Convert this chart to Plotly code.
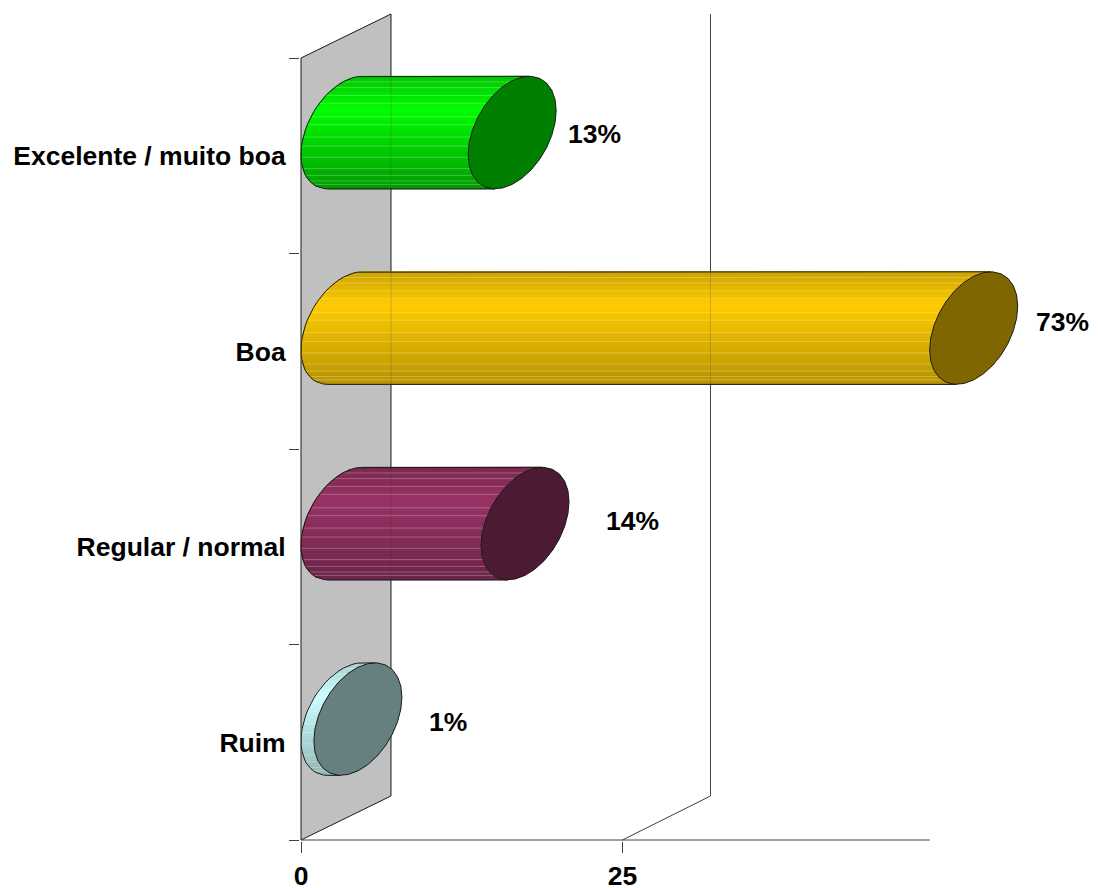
import numpy as np
import plotly.graph_objects as go

# --- data ---
categories = ["Ruim", "Regular / normal", "Boa", "Excelente / muito boa"]
values = [1, 14, 73, 13]
value_labels = ["1%", "14%", "73%", "13%"]
x_ticks = [0, 25]

# --- style ---
X_MAX = 48.9
PX_X = 12.84
PX_Y = 195.5
DEPTH_X = 6.85
WALL_X = 7.0
DEPTH_Y = 0.225
HALF_H = 0.265
BAR_RISE = 0.006
side_top = ["#a8d0d0", "#7a2850", "#cca300", "#00c400"]
side_peak = ["#ccffff", "#993366", "#ffcc00", "#00ff00"]
side_bot = ["#94b8b8", "#6e2549", "#b89400", "#009c00"]
cap_colors = ["#667f7f", "#4c1a33", "#806600", "#007f00"]
label_shift = [(46, 20), (63, 26), (45, 29), (38, 22)]
hair_pos = [0.05, 0.10, 0.17, 0.24, 0.36, 0.43, 0.54, 0.62, 0.72, 0.82, 0.88, 0.93, 0.96]
N_STRIPS = 38
LINE = "#1a1a1a"
FONT = dict(family="Liberation Sans", size=26.5, color="black", weight=700)


def hex2rgb(h):
    return np.array([int(h[i:i + 2], 16) for i in (1, 3, 5)], float)


def grad(f, a, b, c):
    a, b, c = hex2rgb(a), hex2rgb(b), hex2rgb(c)
    col = a + (b - a) * f / 0.3 if f < 0.3 else b + (c - b) * (f - 0.3) / 0.7
    return "rgb(%d,%d,%d)" % tuple(col)


fig = go.Figure()


def poly(xs, ys, fill=None, line=LINE, width=1.0):
    fig.add_trace(go.Scatter(
        x=list(xs), y=list(ys), mode="lines", cliponaxis=False,
        fill="toself" if fill else None, fillcolor=fill,
        line=dict(color=line, width=width),
        hoverinfo="skip", showlegend=False))


# back wall and gridline
poly([0, 0, WALL_X, WALL_X, 0], [0, 4, 4 + DEPTH_Y, DEPTH_Y, 0], fill="#c0c0c0")
poly([25, 25 + DEPTH_X, 25 + DEPTH_X], [0, DEPTH_Y, 4 + DEPTH_Y], line="#404040")
poly([0, X_MAX], [0, 0], line="#404040")

a = DEPTH_X / 2
d = DEPTH_Y / 2
phi = np.arctan2(d, HALF_H)
R = np.hypot(HALF_H, d)

for i, v in enumerate(values):
    end = min(v, X_MAX)
    yc = i + 0.5 + d + BAR_RISE
    cx = a

    def left_x(s):
        return cx + a * np.sin(phi - s)

    # horizontal shaded strips of the cylinder side
    fr = np.linspace(0, 1, N_STRIPS + 1)
    ss = np.arccos(1 - 2 * fr)
    for k in range(N_STRIPS):
        s0, s1 = ss[k], ss[k + 1]
        y0, y1 = yc + R * np.cos(s0), yc + R * np.cos(s1)
        c = grad((fr[k] + fr[k + 1]) / 2, side_top[i], side_peak[i], side_bot[i])
        poly([left_x(s0), left_x(s1), left_x(s1) + end, left_x(s0) + end, left_x(s0)],
             [y0, y1, y1, y0, y0], fill=c, line=c, width=1)

    # lighter hairlines
    hx, hy = [], []
    for f in hair_pos:
        s = np.arccos(1 - 2 * f)
        hx += [left_x(s), left_x(s) + end, None]
        hy += [yc + R * np.cos(s), yc + R * np.cos(s), None]
    poly(hx, hy, line="rgba(255,255,255,0.25)", width=1)

    # faint wall edge / gridline seen through the bar
    for gx in (WALL_X, 25 + DEPTH_X):
        if gx < end + DEPTH_X / 2:
            poly([gx, gx], [yc - R, yc + R], line="rgba(60,60,60,0.22)", width=1)

    # outline of the side
    sarc = np.linspace(0, np.pi, 30)
    poly(list(end + left_x(sarc[:1])) + list(left_x(sarc)) + list(end + left_x(sarc[-1:])),
         list(yc + R * np.cos(sarc[:1])) + list(yc + R * np.cos(sarc)) + list(yc + R * np.cos(sarc[-1:])))

    # end cap
    t = np.linspace(0, 2 * np.pi, 29)
    poly(end + cx + a * np.sin(t), yc + HALF_H * np.cos(t) + d * np.sin(t), fill=cap_colors[i])

    fig.add_annotation(
        x=end + DEPTH_X, y=i + 0.5, text=value_labels[i], showarrow=False,
        xshift=label_shift[i][0], yshift=label_shift[i][1], font=FONT)

fig.update_layout(
    width=1098, height=888, paper_bgcolor="white", plot_bgcolor="white",
    margin=dict(l=300, r=0, t=0, b=47, autoexpand=False),
    showlegend=False,
    xaxis=dict(
        range=[-1 / PX_X, 798 / PX_X - 1 / PX_X - 1 / PX_X], tickmode="array", tickvals=x_ticks,
        ticktext=[str(t) for t in x_ticks],
        ticks="outside", ticklen=11, tickwidth=1, tickcolor="#404040",
        showgrid=False, zeroline=False, showline=False, tickfont=FONT),
    yaxis=dict(
        range=[-1 / PX_Y, 840 / PX_Y], tickmode="array", tickvals=[0.5, 1.5, 2.5, 3.5],
        ticktext=categories,
        ticks="outside", ticklen=8, tickcolor="rgba(0,0,0,0)",
        minor=dict(tickmode="array", tickvals=[0, 1, 2, 3, 4], ticks="outside", ticklen=10,
                   tickwidth=1, tickcolor="#404040", showgrid=False),
        showgrid=False, zeroline=False, showline=False, tickfont=FONT),
)

fig.write_html("out.html", config=dict(displayModeBar=False),
               post_script="document.body.style.margin='0';document.body.style.overflow='hidden';")
